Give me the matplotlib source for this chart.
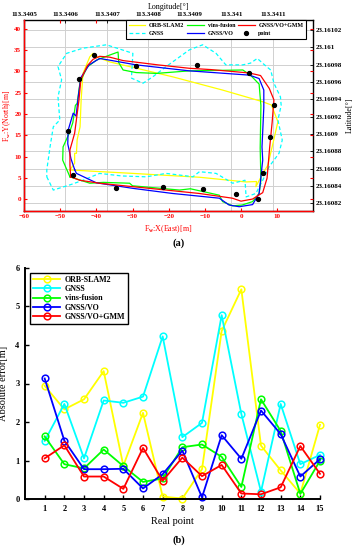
import matplotlib
matplotlib.use("Agg")
import matplotlib.pyplot as plt
from matplotlib.ticker import FuncFormatter

plt.rcParams['font.family'] = ['Liberation Serif', 'DejaVu Serif']
plt.rcParams['font.weight'] = 'bold'
plt.rcParams['mathtext.fontset'] = 'custom'
plt.rcParams['mathtext.rm'] = 'Liberation Serif:bold'
plt.rcParams['mathtext.it'] = 'Liberation Serif:bold'
plt.rcParams['mathtext.bf'] = 'Liberation Serif:bold'

# ---- (a) trajectories, local frame [m] ----
orb_x = [-47.3, -46.0, -46.0, -45.5, -45.3, -44.5, -44.2, -43.7, -41.8, -40.9, -39.5, -36.3, -18.9, -5.1, 5.9, 8.4,
         10.2, 8.6, 7.4, 6.0, 4.1, 4.3, 1.4, -11.5, -29.9, -47.3]
orb_y = [6.9, 8.5, 10.8, 10.8, 14.0, 17.0, 23.3, 29.5, 33.4, 34.2, 33.2, 32.2, 28.7, 25.6, 22.9, 22.1,
         18.2, 12.3, 8.0, 6.0, 3.0, 4.2, 4.1, 5.2, 6.1, 6.9]

gnss_x = [-53.7, -51.9, -47.0, -43.7, -39.1, -33.0, -26.2, -20.7, -15.0, -13.3, -11.5, -6.9, -2.3, 1.1, 1.4, 4.1,
          6.0, 7.8, 10.5, 11.4, 10.2, 11.1, 10.9, 9.1, 8.2, 6.5, 4.5, 2.6, 0.5, -4.2, -6.9, -10.6, -14.3,
          -20.7, -24.4, -27.1, -30.3, -29.9, -37.2, -43.7, -48.2, -50.6, -49.6, -50.6, -50.1, -51.9, -52.8,
          -53.7, -53.7]
gnss_y = [5.3, 2.2, 3.5, 4.5, 6.1, 5.5, 5.3, 6.1, 5.5, 5.3, 6.5, 6.1, 3.8, 4.5, 0.6, 1.4,
          4.5, 7.7, 10.8, 13.9, 18.6, 22.0, 24.0, 27.2, 30.3, 31.5, 33.0, 31.9, 31.5, 31.5, 34.2, 36.2, 35.0,
          31.1, 28.7, 27.2, 28.4, 34.2, 36.2, 35.4, 34.2, 31.1, 28.0, 24.0, 18.6, 17.0, 12.3,
          6.9, 5.3]

vins_x = [-47.3, -49.3, -49.2, -47.5, -46.5, -45.8, -45.3, -44.5, -42.5, -40.0, -36.3, -34.0, -33.8, -32.6, -29.0,
          -23.4, -14.3, 0.5, 2.6, 5.0, 5.5, 5.3, 5.5, 5.0, 3.2, 0.3, -2.3, -5.1, -6.0, -9.7, -14.0, -17.0,
          -30.0, -30.8, -38.0, -41.8, -47.3]
vins_y = [5.3, 9.2, 12.3, 15.5, 18.0, 22.0, 22.5, 27.5, 31.0, 32.6, 33.8, 34.5, 32.0, 30.3, 29.7,
          29.5, 30.1, 30.3, 29.1, 27.0, 22.0, 12.0, 4.5, 1.4, -0.5, -1.3, -1.5, -0.5, 1.0, 1.7, 2.5, 2.2,
          3.2, 3.8, 4.0, 3.8, 5.3]

vo_x = [-46.0, -47.0, -47.9, -47.8, -46.4, -45.6, -45.0, -44.3, -42.0, -39.1, -36.3, -29.0, -14.3, 2.3, 5.0, 6.3,
        6.3, 5.8, 6.0, 5.0, 3.2, -0.5, -3.3, -6.0, -18.9, -29.9, -40.0, -45.5, -46.0]
vo_y = [7.0, 9.5, 13.0, 16.2, 20.2, 19.5, 24.0, 28.5, 31.5, 33.0, 32.6, 31.5, 30.1, 29.1, 28.3, 25.6,
        21.5, 12.3, 9.2, 1.4, -1.2, -1.7, -1.3, 0.3, 1.4, 2.6, 3.9, 6.1, 7.0]

gmm_x = [-47.1, -47.3, -47.3, -46.0, -44.8, -44.3, -42.5, -40.9, -39.1, -36.3, -32.6, -23.0, -14.3, -8.4, 2.3,
         5.4, 7.8, 9.1, 8.6, 7.9, 7.2, 6.0, 3.2, 0.0, -2.4, -11.5, -20.7, -30.0, -39.1, -44.6, -47.1]
gmm_y = [5.3, 8.0, 11.6, 15.5, 23.3, 28.0, 31.3, 32.8, 33.5, 33.3, 32.5, 31.5, 30.7, 30.4, 29.6,
         29.0, 26.0, 23.3, 18.0, 12.0, 5.0, 1.6, 0.1, -0.4, 0.3, 1.4, 2.2, 3.0, 3.8, 4.5, 5.3]

pt_x = [-40.7, -44.7, -47.7, -29.1, -12.1, 2.3, 9.1, 7.9, -46.4, -34.7, -21.6, -10.6, -1.4, 4.6, 6.0]
pt_y = [33.8, 28.1, 16.0, 31.3, 31.5, 29.5, 22.1, 14.6, 5.8, 2.6, 2.8, 2.4, 1.3, 0.0, 6.1]

lon_ticks = [113.3405, 113.3406, 113.3407, 113.3408, 113.3409, 113.341, 113.3411]
lat_ticks = [23.16082, 23.16084, 23.16086, 23.16088, 23.1609, 23.16092, 23.16094,
             23.16096, 23.16098, 23.161, 23.16102]

# ---- (b) absolute error at real points ----
real_pt = list(range(1, 16))
err_orb = [2.94, 2.33, 2.59, 3.32, 0.87, 2.24, 0.07, 0.02, 0.78, 4.36, 5.44, 1.39, 0.75, 0.15, 1.93]
err_gnss = [1.51, 2.47, 1.06, 2.56, 2.50, 2.66, 4.22, 1.61, 1.98, 4.77, 2.21, 0.20, 2.47, 0.91, 1.15]
err_vins = [1.63, 0.91, 0.80, 1.29, 0.86, 0.45, 0.54, 1.35, 1.42, 1.10, 0.32, 2.59, 1.77, 0.14, 1.00]
err_vo = [3.13, 1.52, 0.78, 0.78, 0.79, 0.28, 0.65, 1.26, 0.05, 1.66, 1.05, 2.30, 1.69, 0.59, 1.04]
err_gmm = [1.06, 1.40, 0.59, 0.59, 0.27, 1.33, 0.48, 1.08, 0.60, 0.89, 0.15, 0.13, 0.31, 1.38, 0.66]

W, H = 357, 550
fig = plt.figure(figsize=(W / 100, H / 100), dpi=100)
rect_a = [24 / W, 1 - 211 / H, 289 / W, 191 / H]

# background axes: longitude / latitude with grid
axg = fig.add_axes(rect_a)
axg.set_xlim(113.3405, 113.341197)
axg.set_ylim(23.1608111, 23.1610314)
axg.set_xticks(lon_ticks)
axg.set_yticks(lat_ticks)
axg.grid(True, color='#d0d0d0', linewidth=0.7)
axg.xaxis.tick_top()
axg.yaxis.tick_right()
axg.xaxis.set_label_position('top')
axg.yaxis.set_label_position('right')
axg.xaxis.set_major_formatter(FuncFormatter(lambda v, p: ('%.4f' % v).rstrip('0').rstrip('.')))
axg.yaxis.set_major_formatter(FuncFormatter(lambda v, p: ('%.5f' % v).rstrip('0').rstrip('.')))
axg.tick_params(direction='in', length=2, width=0.6, labelsize=5, pad=2)
axg.set_xlabel('Longitude[°]', fontsize=5.8, labelpad=2)
axg.set_ylabel('Latitude[°]', fontsize=5.8, labelpad=3)
for s in axg.spines.values():
    s.set_linewidth(1.0)

ax = fig.add_axes(rect_a)
ax.patch.set_visible(False)
ax.plot(orb_x, orb_y, color='#ffff00', lw=0.9, label='ORB-SLAM2')
ax.plot(gnss_x, gnss_y, color='#00ffff', lw=0.9, ls=(0, (3, 2)), label='GNSS')
ax.plot(vins_x, vins_y, color='#00ff00', lw=0.9, label='vins-fusion')
ax.plot(vo_x, vo_y, color='#0000ff', lw=0.9, label='GNSS/VO')
ax.plot(gmm_x, gmm_y, color='#ff0000', lw=0.9, label='GNSS/VO+GMM')
ax.plot(pt_x, pt_y, 'o', color='black', ms=2.8, label='point')
ax.set_xlim(-60, 19.9)
ax.set_ylim(-2.7, 42)
ax.set_xticks(range(-60, 20, 10))
ax.set_yticks(range(0, 41, 5))
ax.tick_params(direction='in', length=2.5, width=0.8, colors='red', labelsize=5, pad=2,
               top=True, right=True)
for s in ['left', 'bottom']:
    ax.spines[s].set_color('red')
    ax.spines[s].set_linewidth(1.0)
for s in ['top', 'right']:
    ax.spines[s].set_visible(False)
ax.set_xlabel(r'F$_{\mathrm{w}}$:X(East)[m]', color='red', fontsize=5.8, labelpad=3)
ax.set_ylabel(r'F$_{\mathrm{w}}$:Y(North)[m]', color='red', fontsize=5.6, labelpad=1)
leg = ax.legend(ncol=3, loc='upper right', bbox_to_anchor=(0.976, 1.0), borderaxespad=0,
                fontsize=4.3, handlelength=2.8, columnspacing=0.5, handletextpad=0.6,
                borderpad=0.45, labelspacing=0.55, fancybox=False, framealpha=1)
leg.get_frame().set_edgecolor('black')
leg.get_frame().set_linewidth(0.8)

fig.text(0.5, 1 - 243 / H, '(a)', ha='center', va='center', fontsize=7.5)

# ---- (b) ----
axb = fig.add_axes([25 / W, 1 - 499.3 / H, 295 / W, 231.6 / H])
series = [(err_orb, '#ffff00', 'ORB-SLAM2'), (err_gnss, '#00ffff', 'GNSS'),
          (err_vins, '#00ff00', 'vins-fusion'), (err_vo, '#0000ff', 'GNSS/VO'),
          (err_gmm, '#ff0000', 'GNSS/VO+GMM')]
for vals, c, lab in series:
    axb.plot(real_pt, vals, color=c, lw=1.3, marker='o', ms=4.8, mfc='none', mec=c, mew=1.1,
             label=lab, clip_on=False)
axb.set_xlim(0, 15)
axb.set_ylim(0, 6)
axb.set_xticks(real_pt)
axb.set_yticks(range(0, 7))
axb.spines['top'].set_visible(False)
axb.spines['right'].set_visible(False)
for s in ['left', 'bottom']:
    axb.spines[s].set_linewidth(1.4)
axb.tick_params(direction='in', length=3, width=1.0, labelsize=6, pad=4)
axb.set_xlabel('Real point', fontsize=7.5, labelpad=3)
axb.set_ylabel('Absolute error[m]', fontsize=7.5, labelpad=5)
legb = axb.legend(loc='upper left', bbox_to_anchor=(0.017, 0.978), borderaxespad=0,
                  fontsize=5.8, handlelength=3.3, handletextpad=0.6, borderpad=0.4,
                  labelspacing=0.15, fancybox=False, framealpha=1)
legb.get_frame().set_edgecolor('black')
legb.get_frame().set_linewidth(1.0)

fig.text(0.5, 1 - 540 / H, '(b)', ha='center', va='center', fontsize=7.5)

fig.savefig('out.png', dpi=100)
